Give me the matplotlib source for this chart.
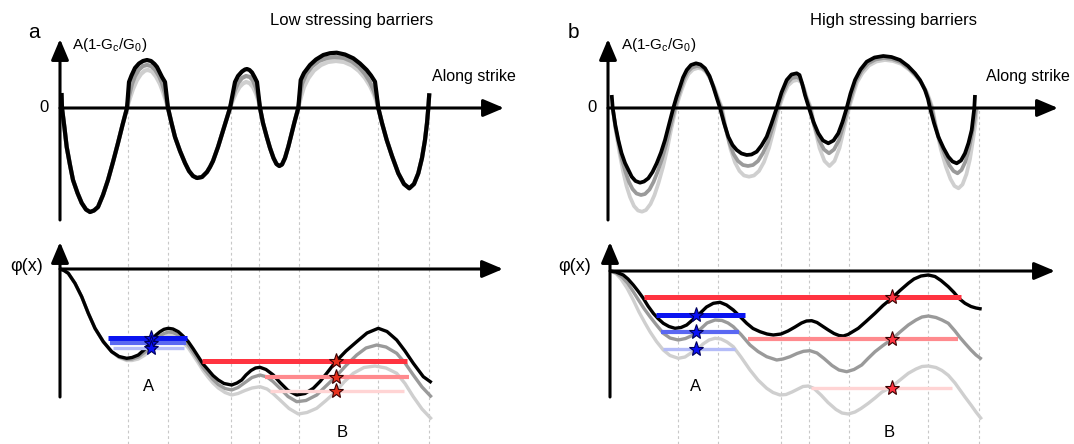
import numpy as np
import matplotlib
matplotlib.use("Agg")
import matplotlib.pyplot as plt

plt.rcParams['font.family'] = ['Liberation Sans', 'DejaVu Sans']
plt.rcParams['mathtext.fontset'] = 'custom'
plt.rcParams['mathtext.rm'] = 'Liberation Sans'

# ---------------------------------------------------------------------------
# Data (x along strike, y value), one unit = one pixel of the sketch
# ---------------------------------------------------------------------------
# zero crossings of the top curves (patch boundaries)
boundaries = [68, 108, 171, 199, 239, 318, 369]

# --- panel a, top: A(1-Gc/G0), negative lobes shared by all three curves
a_start = [(1.5, 15), (2, 0)]
a_neg1 = [(4.5, -20), (6.7, -39), (10, -57), (13, -72), (17.5, -85), (21.7, -95), (26, -101.5),
          (30, -104), (34, -102.5), (38, -99), (43, -87), (48, -72), (53, -54), (58, -35),
          (62.5, -17), (67, 0)]
a_neg2 = [(108, 0), (111.5, -15), (115, -29), (120, -43), (125, -55), (129, -63), (133, -68),
          (137, -70), (142, -69), (147, -64), (150, -59), (153, -53), (158, -39), (162, -26),
          (166, -13), (170, 0)]
a_neg3 = [(200, 0), (203, -15), (206.7, -28.7), (210, -40), (213.5, -50), (216.5, -56),
          (219.3, -58), (222, -56.5), (225, -50), (228.3, -38.7), (231, -28), (234.5, -14),
          (238.3, 0)]
a_neg4 = [(318.3, 0), (322, -15), (326.7, -32), (332, -48), (338.3, -65.3), (344, -76),
          (349.3, -80.3), (354, -76), (358.3, -65.3), (362, -50), (365, -32), (367, -15),
          (368.3, 0), (369.3, 14.7)]

a_black_bumps = [
    [(68, 13), (69, 26), (71.5, 32.5), (75, 40), (79, 44.5), (83, 47), (87, 48), (91, 47),
     (94.5, 44), (97, 41), (99.5, 36), (102, 31), (105, 26), (106.5, 13), (108, 0)],
    [(170, 0), (172.5, 13), (175, 26), (178, 32), (182, 36.5), (185, 38.5), (187, 39),
     (189.5, 38), (192, 35.5), (194.5, 31), (197, 26), (198.5, 13), (200, 0)],
    [(238.3, 0), (239.5, 14), (240.7, 28), (244, 35), (250, 43), (256, 48.5), (263.3, 53),
     (270, 54.8), (276.7, 55.3), (285, 53.5), (293.3, 49.7), (300, 44.5), (306.7, 38),
     (311, 32.5), (315, 26.3), (316.7, 13), (318.3, 0)],
]
a_mid_bumps = [
    [(67, 0), (69, 12), (72, 24), (75, 32), (79, 38.5), (83, 42), (87, 43), (91, 42),
     (95, 38.5), (99, 32), (102, 25), (105, 15), (108, 0)],
    [(170, 0), (172.5, 10), (175, 18), (178, 25), (182, 30), (186, 32), (190, 31),
     (193, 27.5), (196, 20), (198.5, 10), (200, 0)],
    [(238.3, 0), (240, 13), (242, 24), (246, 33.5), (252, 41.5), (259, 47), (267, 50),
     (275, 51), (284, 50), (292, 46.5), (299, 41), (305, 34), (310, 26), (314, 17),
     (317, 8), (318.3, 0)],
]
a_light_bumps = [
    [(67, 0), (70, 10), (73, 19), (77, 28), (81, 34), (85, 37.5), (88, 38), (92, 36.5),
     (96, 31.5), (100, 24), (103, 16), (106, 7), (108, 0)],
    [(170, 0), (173, 8), (176, 15), (179.5, 21), (183, 24.5), (186, 26), (189.5, 25),
     (193, 21), (196, 14.5), (198.5, 7), (200, 0)],
    [(238.3, 0), (241, 11), (244, 21), (248.5, 30), (254, 37.5), (261, 43), (268, 46),
     (276, 47), (284, 46), (292, 42.5), (299, 37), (305, 30), (310, 22), (314, 13.5),
     (316.5, 6), (318.3, 0)],
]

# --- panel a, bottom: phi(x)
phi_a_head = [(0, 0), (4, -1.5), (8.3, -4.3), (15, -14.3), (21.7, -27.7), (28.3, -44.3),
              (35, -59.3), (43.3, -72.7), (51.7, -82.7)]
phi_a_black = [(59, -87.5), (66.7, -89.3), (72, -88.5), (78.3, -86), (85, -80), (91.7, -71),
               (96, -66), (100, -62.7), (104, -60.3), (108.3, -59.3), (113, -60), (118.3, -62.7),
               (123, -67), (128.3, -72.7), (133, -79.5), (138.3, -87.7), (143, -95),
               (148.3, -101), (153, -106.5), (158.3, -111), (164, -114.5), (171.7, -116),
               (177, -114), (181.7, -111), (186, -106), (191, -101.5), (195.5, -99),
               (200, -98.3), (206, -100.5), (213.3, -106), (220, -113.5), (228, -121.5),
               (236.7, -126), (245, -124.5), (253.3, -119.3), (260, -112.5), (266.7, -104.3),
               (275.7, -92.7), (286, -82), (296.7, -72.7), (307, -64), (318.3, -59.3),
               (327, -62.5), (336.7, -71), (345, -82), (353.3, -94.3), (363.3, -107.7),
               (371.7, -113.7)]
phi_a_mid = [(59, -88), (66.7, -90.5), (72, -90), (78.3, -88), (85, -83), (91.7, -75.5),
             (96, -70.5), (100, -67), (104, -64.5), (108.3, -63), (113, -63.5), (118.3, -66),
             (123, -70), (128.3, -76), (133, -83), (138.3, -91), (143, -98.5), (148.3, -105),
             (153, -110.5), (158.3, -115.5), (165, -119.5), (171.7, -121), (178, -118.5),
             (185, -113.5), (192, -108.5), (200, -106), (207, -108), (213, -112.5),
             (220, -119.3), (228, -127.5), (236.7, -132.7), (246, -131.5), (256.7, -126),
             (266, -117), (275.7, -107.7), (286, -96.5), (296.7, -86), (306, -79),
             (316.7, -76), (326, -78), (336.7, -84.3), (345, -94), (353.3, -106),
             (362, -118), (371.7, -128.3)]
phi_a_light = [(59, -88.5), (66.7, -91.5), (72, -91.5), (78.3, -90), (85, -86), (91.7, -80),
               (96, -75), (100, -71), (104, -68), (108.3, -66), (113, -66.5), (118.3, -69),
               (123, -73), (128.3, -79), (133, -86), (138.3, -94), (143, -101.5),
               (148.3, -108.5), (153, -114), (158.3, -119), (165, -123.5), (171.7, -126),
               (178, -124.5), (185, -121.5), (192, -119), (200, -117.7), (207, -120),
               (213, -124.5), (220, -131), (229, -139.5), (238.3, -145), (247, -143.5),
               (256.7, -139.3), (266, -131.5), (275.7, -122.7), (284, -113), (293.3, -104.3),
               (304, -98.5), (315, -97), (326, -99), (336.7, -104.3), (345, -114.5),
               (353.3, -127.7), (362, -140), (371.7, -150.3)]

# rupture levels, panel a
blue_a_y = [-69.3, -74.3, -79.3]
blue_a_x0 = [47.7, 50, 53.3]
blue_a_x1 = [126.7, 125.7, 124.3]
blue_a_star = 91
red_a_y = [-91.7, -108.3, -121.7]
red_a_x0 = [141.7, 205, 210]
red_a_x1 = [346.7, 349.3, 344]
red_a_star = 275.7

# --- panel b, top
b_black = [(1.7, 13), (2.7, 0), (5.3, -17), (8.3, -32), (11.5, -45), (15, -55), (21.7, -68.7),
           (25.5, -73), (30, -74.7), (34, -73.5), (38.3, -70.3), (42.5, -64), (46.7, -55.3),
           (51, -44.5), (55, -32), (59, -16.5), (63.3, 0), (66.5, 11), (70, 21.3), (73, 30.5),
           (76.7, 38), (81, 43), (86, 44.7), (90.5, 43.5), (95, 39.7), (99.5, 32),
           (103.3, 21.3), (106.5, 11), (110, 0), (114, -15), (118.3, -28.7), (122.5, -37),
           (126.7, -42), (131.5, -45.5), (136.7, -47), (141.5, -46.5), (146.7, -43.7),
           (151.5, -37.5), (156.7, -28.7), (161.5, -15.5), (166.7, 0), (171.5, 15.5),
           (176.7, 28), (181.5, 33.5), (186.7, 34.7), (189.5, 33), (192, 25), (195, 13),
           (199, 0), (203.5, -14), (208.3, -25.3), (213, -32.5), (218.3, -35.3),
           (223.5, -32.5), (228.3, -25.3), (232.5, -14), (236.7, 0), (240.5, 14.5), (245, 28),
           (250.5, 38.5), (256.7, 46.3), (264.5, 50.5), (273.3, 52), (281.5, 51), (290, 48),
           (298, 42), (305, 34.7), (310, 28), (315, 18), (318, 9), (320, 0), (324, -15),
           (328.3, -28.7), (333.5, -40), (338.3, -48.7), (342.5, -53.5), (346.7, -55.3),
           (351, -52.5), (355, -45.3), (358.5, -35), (361.7, -22), (364.3, 0), (365, 13)]
b_mid = [(2.7, 0), (5.5, -20), (9, -37), (12, -52), (15.5, -64), (19, -74), (22.5, -81),
         (26.5, -85.5), (31, -87), (35, -86), (39.5, -81.5), (43.5, -74), (47.5, -64),
         (52, -51), (56, -37), (60, -20), (65, 0), (68, 11), (71, 20), (74, 29), (77.5, 36),
         (82, 40.5), (87, 42), (91.5, 41), (96, 37), (100, 30), (104, 20), (107.5, 10),
         (111, 0), (115, -18), (119.5, -35), (123.5, -46), (128, -53), (133, -57), (138, -58),
         (143, -57), (148, -53), (153, -45), (158, -34), (163, -18), (168, 0), (172.5, 14),
         (177.5, 25), (182, 30), (187, 31), (190, 29), (193, 22), (196, 11), (200, 0),
         (204, -17), (209, -32), (214, -41.5), (219, -45.3), (224, -41.5), (229, -32),
         (233.5, -17), (238, 0), (242, 14), (246, 27), (251.5, 37), (258, 44.5), (265.5, 48.5),
         (274, 50), (282, 49), (290.5, 46), (298.5, 40), (305.5, 33), (311, 26), (316, 16.5),
         (319, 8), (321.5, 0), (325.5, -18), (330, -34), (335, -47.5), (339.5, -57.5),
         (343.5, -63), (347.5, -65.3), (351.5, -62), (355.5, -53.5), (359, -41), (362, -26),
         (364.5, -12), (366, 0)]
b_light = [(2.7, 0), (6, -24), (9.5, -45), (13, -63), (16.5, -78), (20, -89), (24, -98),
           (28, -102.5), (32, -103.7), (36, -102), (40.5, -96), (44.5, -87), (48.5, -75),
           (53, -59), (57, -42), (61, -22), (66, 0), (69, 10), (72, 19), (75, 27), (78.5, 34),
           (83, 38.5), (88, 40), (92.5, 39), (97, 35), (101, 28), (105, 19), (108.5, 9),
           (112, 0), (116, -21), (120.5, -41), (125, -54.5), (129.5, -63), (134, -67.5),
           (139, -68.7), (144, -67.5), (149, -63), (154, -54), (159, -40), (164, -21), (169, 0),
           (173.5, 13), (178, 22.5), (183, 27), (187.5, 28), (191, 26), (194, 20), (197, 10),
           (201, 0), (205, -21), (209.5, -40), (214.5, -53), (219.5, -58), (224.5, -53),
           (229.5, -40), (234, -21), (239, 0), (243, 13), (247, 25.5), (252.5, 35), (259, 42.5),
           (266.5, 46.5), (275, 48), (283, 47), (291.5, 44), (299.5, 38), (306.5, 31),
           (312, 24.5), (317, 15.5), (320, 7.5), (322.5, 0), (326.5, -22), (331, -42),
           (336, -59), (340.5, -71), (344.5, -78), (348.5, -80.3), (352.5, -76.5),
           (356.5, -66), (360, -51), (363, -32), (365.5, -15), (367, 0)]

# --- panel b, bottom
phi_b_black = [(0, 0), (6, -1), (13.3, -4), (18, -8), (23.3, -14), (28, -20), (33.3, -27.3),
               (38, -35), (43.3, -42.3), (48, -47.5), (53.3, -52.3), (59, -55.5), (65, -57.3),
               (71, -56.5), (76.7, -54), (83, -48.5), (90, -42.3), (96.5, -36), (103.3, -32.3),
               (110, -31.3), (116.5, -34), (123.3, -39), (130, -45.5), (136.7, -52.3),
               (143, -57.5), (150, -60.7), (157, -63), (163.3, -64), (171, -63), (178, -60),
               (185, -56), (191.5, -52), (196.5, -50), (201.7, -49.7), (207, -51.5),
               (213, -55.5), (218.3, -59), (224, -62.5), (229, -64.5), (233.3, -65),
               (238, -63.5), (243, -60.5), (248.3, -57.3), (256, -50.5), (265, -42.3),
               (273, -34.5), (281.7, -27.3), (290, -19.5), (298.3, -12.3), (304, -8), (311, -5),
               (318.3, -4), (325, -5.5), (331, -9.5), (338.3, -15.7), (344, -21.5), (349, -27.5),
               (355, -32.3), (361, -35.5), (366, -37), (371.7, -38)]
phi_b_mid = [(0, 0), (6, -2), (12, -6), (17.5, -12), (23.3, -20.7), (28.5, -29), (34, -37.5),
             (40, -45.7), (46.5, -54), (53.3, -62.3), (60, -67), (68.3, -69), (75.5, -67.5),
             (83.3, -64), (90, -58.5), (97, -52), (105, -49), (112, -49.5), (118, -52),
             (123.3, -55.7), (131, -63.5), (140, -74), (148, -80.5), (156.7, -85.7),
             (166.7, -89), (173, -88), (180, -85.7), (187, -82.5), (193.5, -80.3), (200, -79.7),
             (207, -82), (214, -87.5), (222, -94.5), (229, -99), (236.7, -100.7), (244, -98.5),
             (251.7, -94), (258, -87.5), (265, -80.7), (273, -74.5), (281.7, -68.3),
             (290, -61), (298.3, -54), (306, -49), (312, -46), (318.3, -45), (326, -46.5),
             (332, -49), (338.3, -52.3), (345, -60), (350, -66.5), (355, -72.3), (361, -79),
             (366, -84), (371.7, -88.3)]
phi_b_light = [(0, 0), (6, -2.5), (11, -8), (17, -17), (23.3, -29), (29, -41), (35, -52),
               (40, -60.7), (46.5, -70.5), (53.3, -79), (60, -84.5), (68.3, -87.3), (75, -86),
               (81, -82), (86.7, -79), (93, -73), (99, -69), (105, -67.3), (111, -68),
               (117, -71), (123.3, -75.7), (131, -86), (140, -99), (148, -109),
               (156.7, -117.3), (163, -121.5), (170, -124), (176, -123.5), (182, -121),
               (188, -118), (193, -115.5), (198.3, -115), (204, -117.5), (211, -124),
               (218, -131.5), (226, -138.5), (232, -142), (238.3, -143), (245, -141),
               (251, -137.5), (258.3, -132.3), (265, -127), (272, -121), (281, -116.3),
               (290, -109), (298.3, -102.3), (306, -98), (312, -95.5), (318.3, -95),
               (326, -96.5), (332, -99.5), (338.3, -104.3), (345, -112), (350, -119),
               (355, -126), (361, -134), (366, -141), (371.7, -148.3)]

# rupture levels, panel b
blue_b_y = [-44, -60.7, -78.3]
blue_b_x0 = [46, 50.7, 53.3]
blue_b_x1 = [135, 129.3, 125]
blue_b_star = 86
red_b_y = [-25.7, -68, -116.7]
red_b_x0 = [34, 138.3, 201]
red_b_x1 = [351, 347.7, 342.3]
red_b_star = 281.7

# ---------------------------------------------------------------------------
# Styling
# ---------------------------------------------------------------------------
BLACK = '#000000'
MID = '#9a9a9a'
LIGHT = '#cfcfcf'
BLUES = ['#0a14f0', '#5a68f2', '#b4bcf8']
REDS = ['#ff3340', '#ff8a8e', '#ffd4d4']
BLUE_LW = [3.6, 3.0, 2.4]
RED_LW = [3.6, 3.0, 2.4]

W, H = 1074, 444
fig = plt.figure(figsize=(W / 100, H / 100), dpi=100)
fig.patch.set_facecolor('white')


def panel(x0, y0, x1, y1, ox, oy):
    """Axes over a pixel box, with its origin placed at (ox, oy)."""
    ax = fig.add_axes([x0 / W, 1 - y1 / H, (x1 - x0) / W, (y1 - y0) / H])
    ax.set_xlim(x0 - ox, x1 - ox)
    ax.set_ylim(oy - y1, oy - y0)
    ax.axis('off')
    return ax


def arrow(ax, x0, y0, x1, y1):
    ax.annotate('', xy=(x1, y1), xytext=(x0, y0), annotation_clip=False,
                arrowprops=dict(arrowstyle='-|>,head_length=0.9,head_width=0.38',
                                lw=2.2, color='k', shrinkA=0, shrinkB=0,
                                mutation_scale=14), zorder=6)


def curve(ax, pts, color, lw, z):
    xy = np.array(pts, dtype=float)
    ax.plot(xy[:, 0], xy[:, 1], color=color, lw=lw, solid_capstyle='butt',
            solid_joinstyle='round', zorder=z)


def boundaries_lines(ax, top):
    ax.vlines(boundaries, ax.get_ylim()[0], top, colors='#c8c8c8', lw=0.8,
              linestyles=(0, (2.5, 2.5)), zorder=0)


def levels(ax, ys, x0s, x1s, colors, lws, star_x, star_fc, star_ec):
    for y, a, b, c, lw in zip(ys, x0s, x1s, colors, lws):
        ax.plot([a, b], [y, b * 0 + y], color=c, lw=lw, solid_capstyle='butt', zorder=4)
    for y in ys:
        ax.plot(star_x, y, marker='*', ms=11, mfc=star_fc, mec=star_ec, mew=0.8,
                zorder=7, clip_on=False)


TXT = 11.5

# ---------------- panel a, top ----------------
ax = panel(0, 0, 537, 230, 60, 108)
boundaries_lines(ax, 0)
a_mid = a_start + a_neg1
a_light = a_start + a_neg1
a_blk = a_start + a_neg1
for negs, k in ((a_neg2, 0), (a_neg3, 1), (a_neg4, 2)):
    a_mid = a_mid + a_mid_bumps[k] + negs
    a_light = a_light + a_light_bumps[k] + negs
    a_blk = a_blk + a_black_bumps[k] + negs
curve(ax, a_light, LIGHT, 3.0, 2)
curve(ax, a_mid, MID, 3.0, 3)
curve(ax, a_blk, BLACK, 3.0, 4)
arrow(ax, 0, -112, 0, 69)
arrow(ax, 0, 0, 444, 0)
ax.text(-26, 76, 'a', fontsize=15, ha='center', va='center')
ax.text(12, 63, r'A(1-G$_\mathregular{c}$/G$_\mathregular{0}$)', fontsize=11,
        ha='left', va='center')
ax.text(-16, 1, '0', fontsize=12, ha='center', va='center')
ax.text(292, 87, 'Low stressing barriers', fontsize=12, ha='center', va='center')
ax.text(414, 31, 'Along strike', fontsize=TXT, ha='center', va='center')

# ---------------- panel a, bottom ----------------
ax = panel(0, 230, 537, 444, 60, 269)
boundaries_lines(ax, 39)
curve(ax, phi_a_head + phi_a_light, LIGHT, 2.4, 2)
curve(ax, phi_a_head + phi_a_mid, MID, 2.4, 3)
curve(ax, phi_a_head + phi_a_black, BLACK, 2.4, 3.5)
levels(ax, blue_a_y, blue_a_x0, blue_a_x1, BLUES, BLUE_LW, blue_a_star, '#0a10f5', '#00005a')
levels(ax, red_a_y, red_a_x0, red_a_x1, REDS, RED_LW, red_a_star, '#e8321e', '#3a0000')
arrow(ax, 0, -128, 0, 27)
arrow(ax, 0, 0, 443, 0)
ax.text(-33, 3, 'φ(x)', fontsize=13, ha='center', va='center')
ax.text(89, -117, 'A', fontsize=12, ha='center', va='center')
ax.text(282, -163, 'B', fontsize=12, ha='center', va='center')

# ---------------- panel b, top ----------------
ax = panel(537, 0, 1074, 230, 610, 108)
boundaries_lines(ax, 0)
curve(ax, b_light, LIGHT, 2.7, 2)
curve(ax, b_mid, MID, 2.7, 3)
curve(ax, b_black, BLACK, 2.7, 4)
arrow(ax, -2, -112, -2, 69)
arrow(ax, -2, 0, 448, 0)
ax.text(-37, 76, 'b', fontsize=15, ha='center', va='center')
ax.text(11, 63, r'A(1-G$_\mathregular{c}$/G$_\mathregular{0}$)', fontsize=11,
        ha='left', va='center')
ax.text(-18, 1, '0', fontsize=12, ha='center', va='center')
ax.text(284, 87, 'High stressing barriers', fontsize=12, ha='center', va='center')
ax.text(418, 31, 'Along strike', fontsize=TXT, ha='center', va='center')

# ---------------- panel b, bottom ----------------
ax = panel(537, 230, 1074, 444, 610, 271)
boundaries_lines(ax, 41)
curve(ax, phi_b_light, LIGHT, 2.4, 2)
curve(ax, phi_b_mid, MID, 2.4, 3)
curve(ax, phi_b_black, BLACK, 2.4, 3.5)
levels(ax, blue_b_y, blue_b_x0, blue_b_x1, BLUES, BLUE_LW, blue_b_star, '#0a10f5', '#00005a')
levels(ax, red_b_y, red_b_x0, red_b_x1, REDS, RED_LW, red_b_star, '#ff3340', '#3a0000')
arrow(ax, 0, -126, 0, 29)
arrow(ax, 0, 0, 445, 0)
ax.text(-35, 5, 'φ(x)', fontsize=13, ha='center', va='center')
ax.text(86, -115, 'A', fontsize=12, ha='center', va='center')
ax.text(279, -161, 'B', fontsize=12, ha='center', va='center')

fig.savefig('out.png', dpi=100, facecolor='white')
